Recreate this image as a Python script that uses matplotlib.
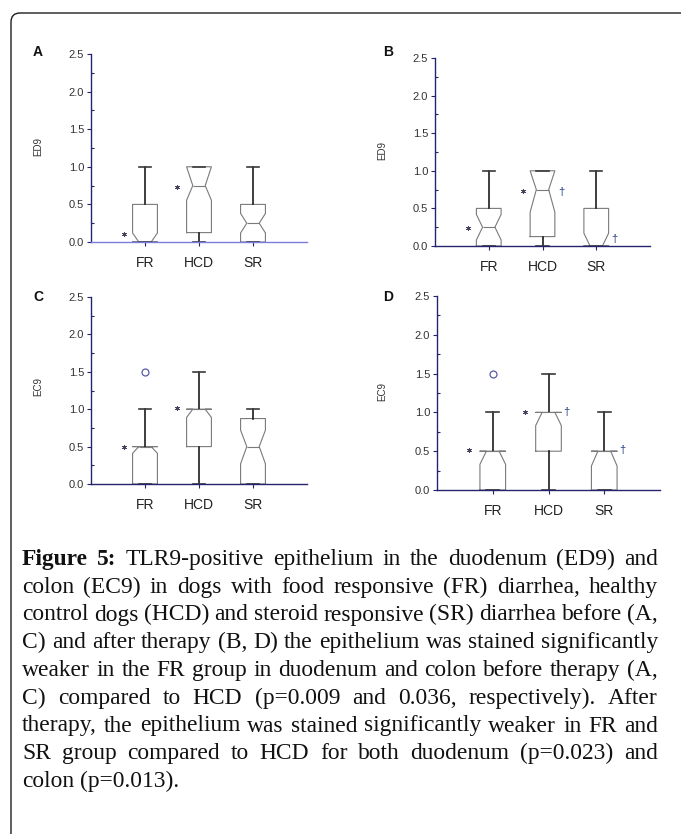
import matplotlib
matplotlib.use('Agg')
import matplotlib.pyplot as plt
from matplotlib.patches import FancyBboxPatch
from matplotlib.transforms import IdentityTransform
from matplotlib.ticker import MultipleLocator, FormatStrFormatter

W, H = 681, 834

groups = ['FR', 'HCD', 'SR']

# panel A: ED9 before therapy
a_lo = [0.0, 0.0, 0.0]
a_q1 = [0.0, 0.125, 0.0]
a_med = [0.0, 0.75, 0.25]
a_q3 = [0.5, 1.0, 0.5]
a_hi = [1.0, 1.0, 1.0]
a_cilo = [0.0, 0.555, 0.12]
a_cihi = [0.12, 1.0, 0.38]
a_fliers = [[], [], []]
a_star_x = [0.61, 1.59]
a_star_y = [0.10, 0.73]
a_dag_x = []
a_dag_y = []

# panel B: ED9 after therapy
b_lo = [0.0, 0.0, 0.0]
b_q1 = [0.0, 0.125, 0.0]
b_med = [0.25, 0.75, 0.0]
b_q3 = [0.5, 1.0, 0.5]
b_hi = [1.0, 1.0, 1.0]
b_cilo = [0.08, 0.45, 0.0]
b_cihi = [0.42, 1.0, 0.17]
b_fliers = [[], [], []]
b_star_x = [0.62, 1.63]
b_star_y = [0.24, 0.73]
b_dag_x = [2.35, 3.33]
b_dag_y = [0.72, 0.09]

# panel C: EC9 before therapy
c_lo = [0.0, 0.0, 0.0]
c_q1 = [0.0, 0.5, 0.0]
c_med = [0.5, 1.0, 0.5]
c_q3 = [0.5, 1.0, 0.875]
c_hi = [1.0, 1.5, 1.0]
c_cilo = [0.41, 0.89, 0.27]
c_cihi = [0.5, 1.0, 0.72]
c_fliers = [[1.5], [], []]
c_star_x = [0.62, 1.59]
c_star_y = [0.49, 1.02]
c_dag_x = []
c_dag_y = []

# panel D: EC9 after therapy
d_lo = [0.0, 0.0, 0.0]
d_q1 = [0.0, 0.5, 0.0]
d_med = [0.5, 1.0, 0.5]
d_q3 = [0.5, 1.0, 0.5]
d_hi = [1.0, 1.5, 1.0]
d_cilo = [0.33, 0.83, 0.31]
d_cihi = [0.5, 1.0, 0.5]
d_fliers = [[1.5], [], []]
d_star_x = [0.57, 1.58]
d_star_y = [0.51, 1.0]
d_dag_x = [2.32, 3.33]
d_dag_y = [1.0, 0.51]

caption_lines = [
    'Figure 5: TLR9-positive epithelium in the duodenum (ED9) and',
    'colon (EC9) in dogs with food responsive (FR) diarrhea, healthy',
    'control dogs (HCD) and steroid responsive (SR) diarrhea before (A,',
    'C) and after therapy (B, D) the epithelium was stained significantly',
    'weaker in the FR group in duodenum and colon before therapy (A,',
    'C) compared to HCD (p=0.009 and 0.036, respectively). After',
    'therapy, the epithelium was stained significantly weaker in FR and',
    'SR group compared to HCD for both duodenum (p=0.023) and',
    'colon (p=0.013).',
]

NAVY = '#24246e'
BOXC = '#7a7a7a'
SANS = 'Liberation Sans'

fig = plt.figure(figsize=(W / 100, H / 100), dpi=100)
fig.patch.set_facecolor('white')

# frame round the figure
frame = FancyBboxPatch((11, -30), 720, H - 13 + 30,
                       boxstyle='round,pad=0,rounding_size=9',
                       transform=IdentityTransform(), fill=False,
                       edgecolor='#1e1e1e', linewidth=1.0)
fig.add_artist(frame)


def add_ax(x0, x1, ytop, ybot):
    return fig.add_axes([x0 / W, 1 - ybot / H, (x1 - x0) / W, (ybot - ytop) / H])


def draw_panel(ax, lo, q1, med, q3, hi, cilo, cihi, fliers,
               star_x, star_y, dag_x, dag_y, bottom_color):
    stats = []
    for i in range(len(groups)):
        stats.append(dict(whislo=lo[i], q1=q1[i], med=med[i], q3=q3[i],
                          whishi=hi[i], cilo=cilo[i], cihi=cihi[i],
                          fliers=fliers[i], label=groups[i]))
    ax.bxp(stats, positions=[1, 2, 3], widths=0.46, shownotches=True,
           boxprops=dict(color=BOXC, linewidth=0.8),
           medianprops=dict(color=BOXC, linewidth=0.8),
           whiskerprops=dict(color='#1c1c1c', linewidth=1.2),
           capprops=dict(color='#3a3a3a', linewidth=1.2),
           flierprops=dict(marker='o', markerfacecolor='none',
                           markeredgecolor='#5a5aa8', markersize=5,
                           markeredgewidth=0.9))
    ax.scatter(star_x, star_y, marker=(6, 2, 0), s=9, color='#4a4060',
               linewidths=0.6, zorder=4)
    for x, y in zip(dag_x, dag_y):
        ax.text(x, y, '\u2020', fontsize=8, color='#1f3a80', family=SANS,
                ha='center', va='center')

    ax.set_xlim(0, 4)
    ax.set_ylim(0, 2.5)
    for s in ['top', 'right']:
        ax.spines[s].set_visible(False)
    ax.spines['left'].set_color(NAVY)
    ax.spines['bottom'].set_color(bottom_color)
    ax.spines['left'].set_linewidth(1.0)
    ax.spines['bottom'].set_linewidth(1.0)
    ax.spines['left'].set_zorder(5)
    ax.spines['bottom'].set_zorder(5)

    ax.yaxis.set_major_locator(MultipleLocator(0.5))
    ax.yaxis.set_minor_locator(MultipleLocator(0.25))
    ax.yaxis.set_major_formatter(FormatStrFormatter('%.1f'))
    ax.tick_params(axis='y', which='major', direction='out', length=3,
                   width=0.8, color=NAVY, pad=2, labelsize=8,
                   labelcolor='#333333')
    ax.tick_params(axis='y', which='minor', direction='in', length=2,
                   width=0.8, color=NAVY)
    ax.set_xticks([1, 2, 3])
    ax.set_xticklabels(groups)
    ax.tick_params(axis='x', which='major', direction='out', length=3,
                   width=0.8, color=NAVY, pad=7, labelsize=10,
                   labelcolor='#222222')
    for lab in ax.get_xticklabels() + ax.get_yticklabels():
        lab.set_family(SANS)
    ax.set_facecolor('none')
    return ax


axA = add_ax(91, 307, 54, 242)
draw_panel(axA, a_lo, a_q1, a_med, a_q3, a_hi, a_cilo, a_cihi, a_fliers,
           a_star_x, a_star_y, a_dag_x, a_dag_y, '#7b7be0')
axB = add_ax(435, 650, 58, 246)
draw_panel(axB, b_lo, b_q1, b_med, b_q3, b_hi, b_cilo, b_cihi, b_fliers,
           b_star_x, b_star_y, b_dag_x, b_dag_y, NAVY)
axC = add_ax(91, 307, 297, 484)
draw_panel(axC, c_lo, c_q1, c_med, c_q3, c_hi, c_cilo, c_cihi, c_fliers,
           c_star_x, c_star_y, c_dag_x, c_dag_y, NAVY)
axD = add_ax(437, 660, 296, 490)
draw_panel(axD, d_lo, d_q1, d_med, d_q3, d_hi, d_cilo, d_cihi, d_fliers,
           d_star_x, d_star_y, d_dag_x, d_dag_y, NAVY)

# panel letters and y labels
for letter, lx, ly in [('A', 38, 52), ('B', 388, 52), ('C', 38, 297), ('D', 388, 297)]:
    fig.text(lx / W, 1 - ly / H, letter, fontsize=10, fontweight='bold',
             family=SANS, ha='center', va='center', color='#111111')
for lab, lx, ly in [('ED9', 38, 147), ('ED9', 382, 150), ('EC9', 38, 387), ('EC9', 382, 392)]:
    fig.text(lx / W, 1 - ly / H, lab, fontsize=7, rotation=90, family=SANS,
             ha='center', va='center', color='#333333')

# caption, justified between x_left and x_right
SERIF = 'Liberation Serif'
x_left, x_right = 22, 658
base0, pitch = 565, 27.75
renderer = fig.canvas.get_renderer()

probe = fig.text(0, 0, caption_lines[3], fontsize=10, family=SERIF)
w10 = probe.get_window_extent(renderer).width
probe.remove()
cap_size = 10 * (x_right - x_left) / w10

space_t = fig.text(0, 0, 'a a', fontsize=cap_size, family=SERIF)
aa = fig.text(0, 0, 'aa', fontsize=cap_size, family=SERIF)
space_w = space_t.get_window_extent(renderer).width - aa.get_window_extent(renderer).width
space_t.remove()
aa.remove()

for li, line in enumerate(caption_lines):
    words = line.split(' ')
    yb = 1 - (base0 + li * pitch) / H
    texts = []
    for wi, word in enumerate(words):
        bold = (li == 0 and wi < 2)
        t = fig.text(0, yb, word, fontsize=cap_size, family=SERIF,
                     fontweight='bold' if bold else 'normal',
                     color='#111111', va='baseline', ha='left')
        texts.append(t)
    widths = [t.get_window_extent(renderer).width for t in texts]
    if li < len(caption_lines) - 1 and len(words) > 1:
        gap = (x_right - x_left - sum(widths)) / (len(words) - 1)
    else:
        gap = space_w
    x = x_left
    for t, w in zip(texts, widths):
        t.set_x(x / W)
        x += w + gap

fig.savefig('out.png', dpi=100)
